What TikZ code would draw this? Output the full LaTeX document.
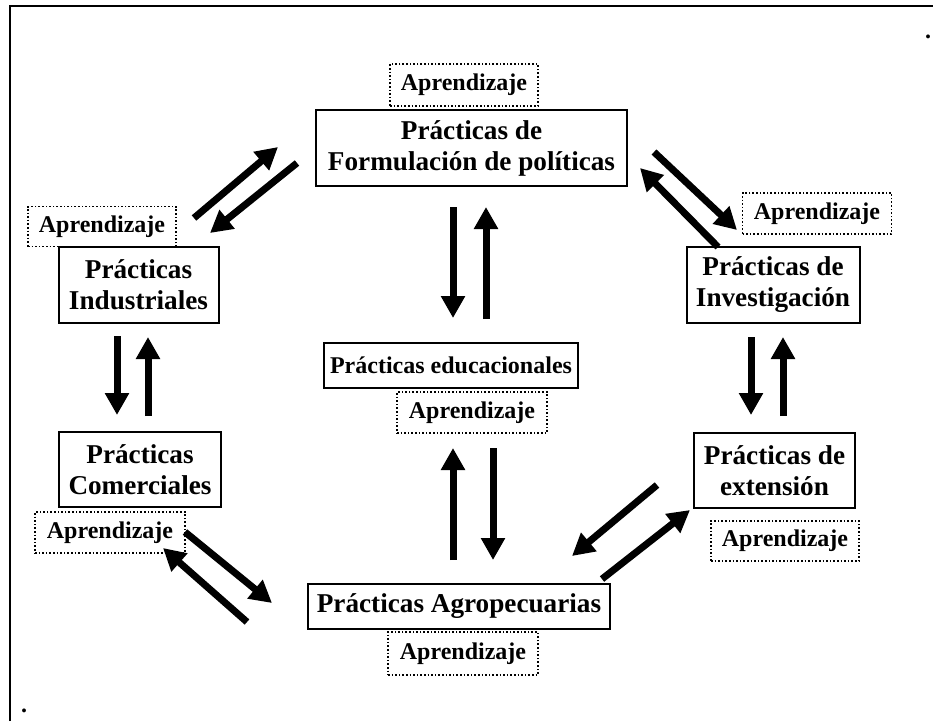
\documentclass[tikz,border=0pt]{standalone}
\usepackage{fontspec}
\setmainfont{Liberation Serif}
\usetikzlibrary{arrows.meta}
\begin{document}
\begin{tikzpicture}[x=1pt,y=-1pt,
  mainbox/.style={draw,line width=2pt,font=\fontsize{27.2}{31}\selectfont\bfseries,align=center,inner sep=0pt},
  learnbox/.style={draw,dotted,line width=1.6pt,font=\fontsize{24}{27}\selectfont\bfseries,inner sep=0pt},
  bigarrow/.style={line width=7pt,-{Triangle[length=22pt,width=23pt]}},
  framel/.style={line width=2.5pt},
  dotmark/.style={font=\fontsize{24}{27}\selectfont\bfseries,inner sep=0pt,anchor=base}
]
\useasboundingbox (0,0) rectangle (933,721);
% frame
\coordinate (fbl) at (10,721);
\coordinate (ftl) at (10,6);
\coordinate (ftr) at (933,6);
\draw[framel] (fbl) -- (ftl) -- (ftr);
\node[dotmark] (dot1) at (928,38) {.};
\node[dotmark] (dot2) at (24,712) {.};

% main boxes
\node[mainbox,minimum width=311,minimum height=76] (form) at (471.5,148) {Prácticas de\\Formulación de políticas};
\node[mainbox,minimum width=160,minimum height=76] (ind) at (138.5,285) {Prácticas\\Industriales};
\node[mainbox,minimum width=162,minimum height=75] (com) at (140,469.5) {Prácticas\\Comerciales};
\node[mainbox,minimum width=173,minimum height=76] (inv) at (773,285) {Prácticas de\\Investigación};
\node[mainbox,minimum width=161,minimum height=75] (ext) at (774.5,470.5) {Prácticas de\\extensión};
\node[mainbox,font=\fontsize{24}{28}\selectfont\bfseries,minimum width=254,minimum height=45] (edu) at (451,365.5) {Prácticas educacionales};
\node[mainbox,minimum width=302,minimum height=45] (agro) at (459,606.5) {Prácticas Agropecuarias};

% learning boxes
\node[learnbox,minimum width=148,minimum height=42] (lform) at (464,85) {Aprendizaje};
\node[learnbox,minimum width=148,minimum height=40] (lind) at (102,226.5) {Aprendizaje};
\node[learnbox,minimum width=150,minimum height=41] (lcom) at (110,532.5) {Aprendizaje};
\node[learnbox,minimum width=150,minimum height=41] (ledu) at (472,412.5) {Aprendizaje};
\node[learnbox,minimum width=150,minimum height=43] (lagro) at (463,653.5) {Aprendizaje};
\node[learnbox,minimum width=149,minimum height=41] (linv) at (817,213.5) {Aprendizaje};
\node[learnbox,minimum width=148,minimum height=40] (lext) at (785,541) {Aprendizaje};

% arrow end points
\coordinate (a1s) at (194,218);  \coordinate (a1e) at (278,147);
\coordinate (a2s) at (297,163);  \coordinate (a2e) at (210,233);
\coordinate (a3s) at (654,152);  \coordinate (a3e) at (737,230);
\coordinate (a4s) at (718,247);  \coordinate (a4e) at (640,168);
\coordinate (a5s) at (117,336);  \coordinate (a5e) at (117,415);
\coordinate (a6s) at (148,416);  \coordinate (a6e) at (148,337);
\coordinate (a7s) at (751,337);  \coordinate (a7e) at (751,415);
\coordinate (a8s) at (783,416);  \coordinate (a8e) at (783,337);
\coordinate (a9s) at (453,207);  \coordinate (a9e) at (453,318);
\coordinate (a10s) at (486,319); \coordinate (a10e) at (486,207);
\coordinate (a11s) at (453,560); \coordinate (a11e) at (453,448);
\coordinate (a12s) at (493,448); \coordinate (a12e) at (493,560);
\coordinate (a13s) at (185,532); \coordinate (a13e) at (272,603);
\coordinate (a14s) at (247,622); \coordinate (a14e) at (163,548);
\coordinate (a15s) at (657,485); \coordinate (a15e) at (572,556);
\coordinate (a16s) at (602,579); \coordinate (a16e) at (690,510);

\foreach \i in {1,...,16}{\draw[bigarrow] (a\i s) -- (a\i e);}
\end{tikzpicture}
\end{document}
